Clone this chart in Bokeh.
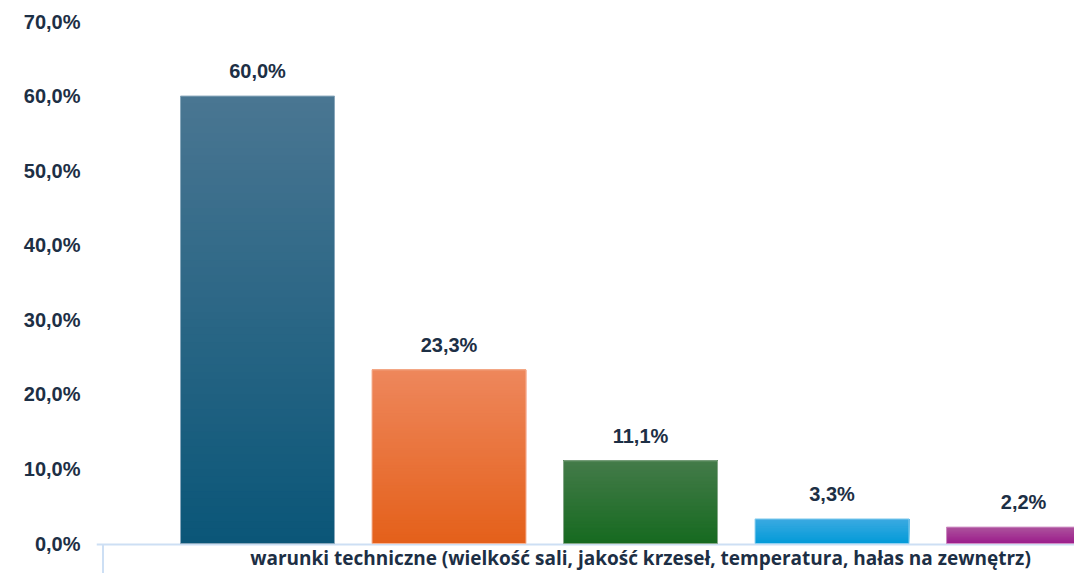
import numpy as np
from bokeh.plotting import figure
from bokeh.models import Range1d, FixedTicker, ColumnDataSource
from bokeh.core.properties import value
from bokeh.embed import file_html
from bokeh.resources import INLINE

# ---- data ----
category = "warunki techniczne (wielkość sali, jakość krzeseł, temperatura, hałas na zewnętrz)"
values = [60.0, 23.3, 11.1, 3.3, 2.2]
value_labels = ["60,0%", "23,3%", "11,1%", "3,3%", "2,2%"]
tick_values = [0, 10, 20, 30, 40, 50, 60, 70]
tick_labels = ["0,0%", "10,0%", "20,0%", "30,0%", "40,0%", "50,0%", "60,0%", "70,0%"]

# styles (gradient top/bottom colours per bar)
top_colors = ["#4a7692", "#ee875c", "#447b49", "#3caae1", "#ad539d"]
bottom_colors = ["#0a5678", "#e4601a", "#166a20", "#039ad8", "#9b1d8b"]
edge_colors = ["#8aa8bc", "#f4b396", "#86a889", "#8fd0ef", "#cf8fc4"]

TEXT = "#1d2f45"
FONT = "Liberation Sans"

x = np.arange(len(values))
bar_w = 0.804
x_start = -0.8407
x_end = 4.266
y_bottom = -4.02

p = figure(width=1074, height=573, output_backend="svg", toolbar_location=None,
           x_range=Range1d(x_start, x_end), y_range=Range1d(y_bottom, 70),
           min_border_left=96, min_border_right=0, min_border_top=21,
           min_border_bottom=0)
p.outline_line_color = None
p.grid.visible = False
p.xaxis.visible = False
p.background_fill_color = "white"
p.border_fill_color = "white"

yax = p.yaxis[0]
yax.ticker = FixedTicker(ticks=tick_values)
yax.major_label_overrides = {t: l for t, l in zip(tick_values, tick_labels)}
yax.axis_line_color = None
yax.major_tick_line_color = None
yax.minor_tick_line_color = None
yax.major_label_standoff = 10
yax.major_label_text_font = FONT
yax.major_label_text_font_style = "bold"
yax.major_label_text_font_size = "20px"
yax.major_label_text_color = TEXT

# category box lines
p.segment(x0=[x_start], y0=[-0.13], x1=[x_end], y1=[-0.13],
          line_color="#cddff4", line_width=2)
p.segment(x0=[x_start + 0.034], y0=[-0.13], x1=[x_start + 0.034], y1=[y_bottom],
          line_color="#cddff4", line_width=2)

# gradient bars built as overlapping slices of each value (bottom -> top)
N = 60
def hex2rgb(h):
    h = h.lstrip("#")
    return np.array([int(h[i:i + 2], 16) for i in (0, 2, 4)], dtype=float)

L, R, B, T, C = [], [], [], [], []
for i, v in enumerate(values):
    ct, cb = hex2rgb(top_colors[i]), hex2rgb(bottom_colors[i])
    for k in range(N):
        f = (k + 0.5) / N
        c = cb + (ct - cb) * f
        L.append(x[i] - bar_w / 2)
        R.append(x[i] + bar_w / 2)
        B.append(v * k / N)
        T.append(v)
        C.append("#%02x%02x%02x" % tuple(int(round(z)) for z in c))
p.quad(left=L, right=R, bottom=B, top=T, fill_color=C, line_color=None)
p.vbar(x=x, top=values, width=bar_w, bottom=0, fill_alpha=0,
       line_color=edge_colors, line_width=1)

# value labels
src = ColumnDataSource(dict(x=x, y=values, t=value_labels))
p.text(x="x", y="y", text="t", source=src, text_align="center",
       text_baseline="alphabetic", y_offset=-25,
       text_font=value(FONT), text_font_style="bold",
       text_font_size="20px", text_color=TEXT)

# category label
p.text(x=[float(np.mean(x))], y=[-2.0], text=[category], text_align="center",
       text_baseline="middle", text_font=value("Open Sans"), text_font_style="bold",
       text_font_size="19px", text_color=TEXT)

open("out.html", "w").write(file_html(p, INLINE))
